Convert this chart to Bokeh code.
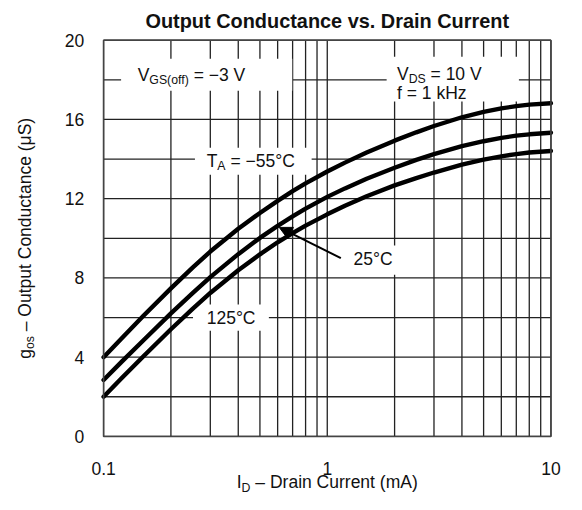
import math
from bokeh.plotting import figure
from bokeh.models import Range1d, Label, Arrow, NormalHead
from bokeh.embed import file_html
from bokeh.resources import INLINE

# ---------------- data ----------------
drain_current_ma = [0.1, 0.12, 0.15, 0.2, 0.25, 0.3, 0.4, 0.5, 0.6, 0.7, 0.8,
                    1.0, 1.2, 1.5, 2.0, 2.5, 3.0, 4.0, 5.0, 6.0, 7.0, 8.0, 10.0]
gos_m55C = [4.0, 4.93, 6.06, 7.47, 8.52, 9.33, 10.48, 11.28, 11.89, 12.38, 12.77,
            13.37, 13.82, 14.33, 14.93, 15.35, 15.67, 16.11, 16.38, 16.56, 16.67, 16.75, 16.82]
gos_25C = [2.85, 3.75, 4.83, 6.21, 7.23, 8.04, 9.20, 10.02, 10.63, 11.11, 11.50,
           12.09, 12.52, 13.01, 13.56, 13.96, 14.25, 14.65, 14.90, 15.07, 15.18, 15.25, 15.33]
gos_125C = [2.0, 2.92, 4.02, 5.41, 6.44, 7.24, 8.39, 9.19, 9.80, 10.26, 10.64,
            11.21, 11.64, 12.12, 12.67, 13.04, 13.32, 13.72, 13.97, 14.14, 14.25, 14.33, 14.41]

x_tick_values = [0.1, 1, 10]
x_tick_labels = ["0.1", "1", "10"]
x_grid_values = [0.1, 0.2, 0.3, 0.4, 0.5, 0.6, 0.7, 0.8, 0.9,
                 1, 2, 3, 4, 5, 6, 7, 8, 9, 10]
y_tick_values = [0, 4, 8, 12, 16, 20]
y_tick_labels = ["0", "4", "8", "12", "16", "20"]
y_grid_values = [0, 2, 4, 6, 8, 10, 12, 14, 16, 18, 20]

# ---------------- layout (pixels) ----------------
FIG_W, FIG_H = 566, 494
S = FIG_W / 582.0                      # scale from the 582x510 reference
FRAME_L, FRAME_R = 106 * S, 566 * S
FRAME_T, FRAME_B = 41 * FIG_H / 510.0, 450 * FIG_H / 510.0
FONT = "Liberation Sans"
FS = 18 * S
BLACK = "#111111"

X_MIN, X_MAX = x_tick_values[0], x_tick_values[-1]
Y_MIN, Y_MAX = y_tick_values[0], y_tick_values[-1]
dec_px = (FRAME_R - FRAME_L) / math.log10(X_MAX / X_MIN)
ppu = (FRAME_B - FRAME_T) / (Y_MAX - Y_MIN)
x_lo = X_MIN * 10 ** (-FRAME_L / dec_px)
x_hi = X_MAX * 10 ** ((FIG_W - FRAME_R) / dec_px)
y_lo = Y_MIN - (FIG_H - FRAME_B) / ppu
y_hi = Y_MAX + FRAME_T / ppu

# Arial / Liberation Sans advance widths (1/1000 em)
W = {' ': 278, '(': 333, ')': 333, '.': 278, '=': 584, '\u2212': 584, '\u2013': 556,
     '\u00b0': 400, '\u03bc': 576, 'A': 667, 'C': 722, 'D': 722, 'G': 778, 'H': 722,
     'I': 278, 'O': 778, 'S': 667, 'T': 611, 'V': 667, 'a': 556, 'c': 500, 'd': 556,
     'e': 556, 'f': 278, 'g': 556, 'i': 222, 'k': 500, 'm': 833, 'n': 556, 'o': 556,
     'p': 556, 'r': 333, 's': 500, 't': 278, 'u': 556, 'z': 500}
for ch in "0123456789":
    W[ch] = 556


def text_width(txt, size):
    return sum(W.get(c, 556) for c in txt) / 1000.0 * size


def pieces_width(pieces, size, sub_r=0.7):
    return sum(text_width(t, size * sub_r if s else size) for t, s in pieces)


def rich_label(p, x, y, pieces, size=FS, dx=0.0, dy=0.0, angle=0.0, sub_r=0.7):
    """Text made of (text, is_subscript) pieces, each placed by its middle.
    Horizontal: dx = left edge offset (px), dy = vertical centre offset (px, up +).
    Rotated 90deg: dx = horizontal centre offset, dy = start offset along text (up +)."""
    sub_shift = 0.30 * size
    cur = 0.0
    for txt, sub in pieces:
        fs = size * sub_r if sub else size
        lead = len(txt) - len(txt.lstrip(' '))
        cur += text_width(' ' * lead, fs)
        body = txt.strip(' ')
        if angle == 0:
            xo = dx + cur
            yo = dy - (sub_shift if sub else 0.0)
        else:
            xo = dx + (sub_shift if sub else 0.0)
            yo = dy + cur
        p.add_layout(Label(x=x, y=y, x_offset=xo, y_offset=yo, text=body,
                           text_font=FONT, text_font_size=f"{fs:.1f}px",
                           text_color=BLACK, text_align="left",
                           text_baseline="middle", angle=angle))
        cur += text_width(body, fs) + text_width(' ' * (len(txt) - lead - len(body)), fs)


# ---------------- figure ----------------
p = figure(width=FIG_W, height=FIG_H, x_axis_type="log",
           x_axis_location=None, y_axis_location=None,
           x_range=Range1d(x_lo, x_hi), y_range=Range1d(y_lo, y_hi),
           output_backend="svg", toolbar_location=None,
           min_border=0, min_border_left=0, min_border_right=0,
           min_border_top=0, min_border_bottom=0)
p.background_fill_color = "white"
p.border_fill_color = "white"
p.outline_line_color = None
p.grid.visible = False
for g in p.grid:
    g.grid_line_color = None

# grid lines
p.segment(x0=x_grid_values, x1=x_grid_values,
          y0=[Y_MIN] * len(x_grid_values), y1=[Y_MAX] * len(x_grid_values),
          line_color="#222222", line_width=1.3)
p.segment(x0=[X_MIN] * len(y_grid_values), x1=[X_MAX] * len(y_grid_values),
          y0=y_grid_values, y1=y_grid_values,
          line_color="#222222", line_width=1.3)

# white boxes behind annotation texts (centre in data units; size in px)
box_x = [0.289, 3.64, 0.467, 1.633, 0.371]
box_y = [18.26, 18.04, 13.89, 8.9, 5.99]
box_w = [w * S for w in (176, 136, 120, 54, 78)]
box_h = [h * S for h in (33, 46, 28, 30, 27)]
p.rect(x=box_x, y=box_y, width=box_w, height=box_h,
       width_units="screen", height_units="screen",
       fill_color="white", line_color=None)

# curves
for ys in (gos_m55C, gos_25C, gos_125C):
    p.line(drain_current_ma, ys, line_width=4.5 * S, line_color="black",
           line_join="round", line_cap="round")

# frame
p.quad(left=[X_MIN], right=[X_MAX], bottom=[Y_MIN], top=[Y_MAX],
       fill_color=None, line_color="#444444", line_width=1.5)

# arrow pointing at the 25 C curve
p.add_layout(Arrow(x_start=1.15, y_start=9.0, x_end=0.61, y_end=10.55,
                   line_width=2, line_color="black",
                   end=NormalHead(size=13 * S, fill_color="black",
                                  line_color="black", line_width=1)))

# tick labels
for v, s in zip(y_tick_values, y_tick_labels):
    p.add_layout(Label(x=X_MIN, y=v, x_offset=-20 * S, y_offset=0, text=s,
                       text_font=FONT, text_font_size=f"{FS:.1f}px", text_color=BLACK,
                       text_align="right", text_baseline="middle"))
for v, s in zip(x_tick_values, x_tick_labels):
    p.add_layout(Label(x=v, y=Y_MIN, y_offset=-33 * S, text=s,
                       text_font=FONT, text_font_size=f"{FS:.1f}px", text_color=BLACK,
                       text_align="center", text_baseline="middle"))

# annotation texts
rich_label(p, 0.142, 18.24, [("V", False), ("GS(off)", True), (" = \u22123 V", False)])
rich_label(p, 2.05, 18.29, [("V", False), ("DS", True), (" = 10 V", False)])
rich_label(p, 2.05, 17.31, [("f = 1 kHz", False)])
rich_label(p, 0.289, 13.91, [("T", False), ("A", True), (" = \u221255\u00b0C", False)])
rich_label(p, 1.31, 8.95, [("25\u00b0C", False)])
rich_label(p, 0.289, 6.0, [("125\u00b0C", False)])

# title
TFS = 20.5 * S
p.add_layout(Label(x=1, y=Y_MAX, y_offset=(41 - 21.5) * S,
                   text="Output Conductance vs. Drain Current",
                   text_font=FONT, text_font_size=f"{TFS:.1f}px", text_font_style="bold",
                   text_color=BLACK, text_align="center", text_baseline="middle"))

# x-axis label (with subscript)
xl = [("I", False), ("D", True), (" \u2013 Drain Current (mA)", False)]
rich_label(p, 1, Y_MIN, xl, dx=-pieces_width(xl, FS) / 2, dy=-46.0)

# y-axis label (rotated, with subscript)
yl = [("g", False), ("os", True), (" \u2013 Output Conductance (\u03bcS)", False)]
rich_label(p, X_MIN, 10, yl, dx=-(106 - 25) * S, dy=-pieces_width(yl, FS) / 2,
           angle=math.pi / 2)

open("out.html", "w").write(file_html(p, INLINE))
